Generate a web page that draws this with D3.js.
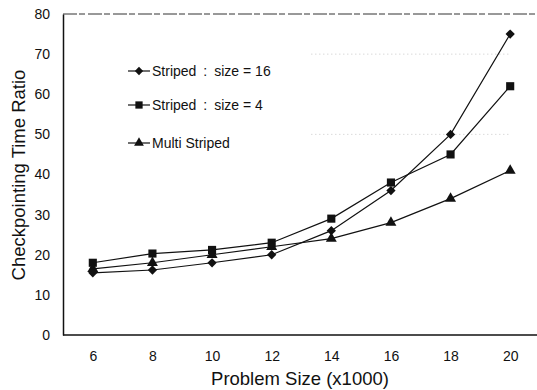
<!DOCTYPE html>
<html>
<head>
<meta charset="utf-8">
<script src="https://cdn.jsdelivr.net/npm/d3@7"></script>
<style>
  body { margin: 0; background: #fff; }
  text { font-family: "Liberation Sans", Arial, sans-serif; fill: #111; }
</style>
</head>
<body>
<script>
// chart data
let sizes = ['6', '8', '10', '12', '14', '16', '18', '20'];
let striped16 = [15.5, 16.2, 18, 20, 26, 36, 50, 75];
let striped4 = [18, 20.3, 21.2, 23, 29, 38, 45, 62];
let multiStriped = [16.5, 18, 20, 22, 24, 28, 34, 41];
let yTicks = [0, 10, 20, 30, 40, 50, 60, 70, 80];
let seriesNames = ['Striped\u2002:\u2002size = 16', 'Striped\u2002:\u2002size = 4', 'Multi Striped'];

let W = 537, H = 390;
let plotL = 63, plotT = 14, plotB = 335, plotR = 540;

let svg = d3.select('body')
    .append('svg')
        .attr('width', W)
        .attr('height', H);

let x = d3.scalePoint().domain(sizes).range([plotL, plotR]).padding(0.5);
let y = d3.scaleLinear().domain([0, 80]).range([plotB, plotT]);

// faint scan-like grid lines
svg.selectAll('.grid')
    .data([70, 50])
    .enter().append('line')
        .attr('x1', x('14') - 20)
        .attr('x2', x('20'))
        .attr('y1', d => y(d))
        .attr('y2', d => y(d))
        .attr('stroke', '#bbb')
        .attr('stroke-width', 0.8)
        .attr('stroke-dasharray', '1,3');

// frame: top border, left and bottom axes
svg.append('line')
    .attr('x1', plotL).attr('x2', W)
    .attr('y1', plotT).attr('y2', plotT)
    .attr('stroke', '#333').attr('stroke-width', 1)
    .attr('stroke-dasharray', '14,2,6,3');

let yAxis = svg.append('g')
    .attr('transform', 'translate(' + plotL + ',0)')
    .call(d3.axisLeft(y).tickValues(yTicks).tickSize(0).tickPadding(13));
let xAxis = svg.append('g')
    .attr('transform', 'translate(0,' + plotB + ')')
    .call(d3.axisBottom(x).tickSize(0).tickPadding(16));

[yAxis, xAxis].forEach(function(a) {
    a.select('.domain').attr('stroke', '#111').attr('stroke-width', 1.5);
    a.selectAll('text').style('font-size', '14px')
        .style('font-family', '"Liberation Sans", Arial, sans-serif').attr('fill', '#111');
});
xAxis.select('.domain').attr('d', 'M' + plotL + ',0H' + W);

// axis titles
svg.append('text')
    .attr('transform', 'translate(25,175) rotate(-90)')
    .attr('text-anchor', 'middle')
    .style('font-size', '18.5px')
    .text('Checkpointing Time Ratio');
svg.append('text')
    .attr('x', 300).attr('y', 385)
    .attr('text-anchor', 'middle')
    .style('font-size', '18.5px')
    .text('Problem Size (x1000)');

let symbols = [d3.symbolDiamond2, d3.symbolSquare, d3.symbolTriangle];
let symSizes = [55, 66, 52];
let allSeries = [striped16, striped4, multiStriped];

let line = d3.line()
    .x((d, i) => x(sizes[i]))
    .y(d => y(d));

allSeries.forEach(function(vals, s) {
    svg.append('path')
        .attr('d', line(vals))
        .attr('fill', 'none')
        .attr('stroke', '#111')
        .attr('stroke-width', 1.2);
    svg.selectAll('.m' + s)
        .data(vals)
        .enter().append('path')
            .attr('transform', (d, i) => 'translate(' + x(sizes[i]) + ',' + y(d) + ')')
            .attr('d', d3.symbol().type(symbols[s]).size(symSizes[s]))
            .attr('fill', '#111');
});

// legend
let legendY = [71, 105, 143];
seriesNames.forEach(function(name, s) {
    let g = svg.append('g').attr('transform', 'translate(128,' + legendY[s] + ')');
    g.append('line').attr('x1', 0).attr('x2', 22).attr('y1', 0).attr('y2', 0)
        .attr('stroke', '#111').attr('stroke-width', 1.2);
    g.append('path').attr('transform', 'translate(11,0)')
        .attr('d', d3.symbol().type(symbols[s]).size(symSizes[s] * 0.8))
        .attr('fill', '#111');
    g.append('text').attr('x', 24).attr('y', 5)
        .style('font-size', '14px')
        .text(name);
});
</script>
</body>
</html>
